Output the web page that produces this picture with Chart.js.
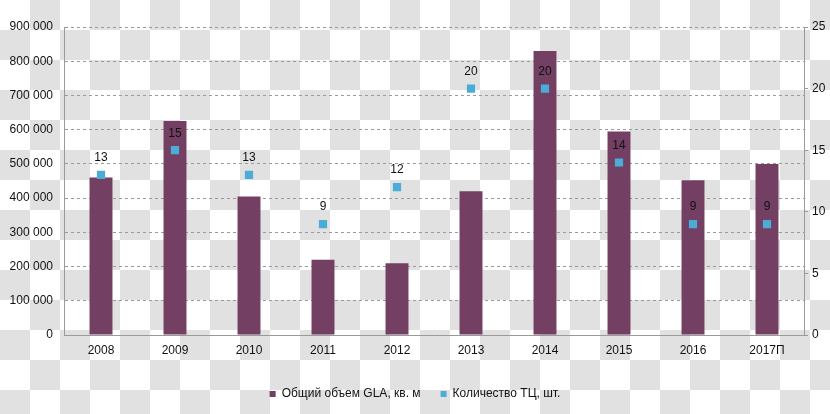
<!DOCTYPE html>
<html>
<head>
<meta charset="utf-8">
<script src="https://cdn.jsdelivr.net/npm/chart.js@4/dist/chart.umd.min.js"></script>
<style>
  html, body { margin: 0; padding: 0; }
  body {
    width: 830px; height: 414px; overflow: hidden;
    background-color: #fff;
    background-image: conic-gradient(#e1e1e1 0 25%, #fff 0 50%, #e1e1e1 0 75%, #fff 0);
    background-size: 60px 60px;
  }
  canvas { display: block; }
</style>
</head>
<body>
<canvas id="chart" width="830" height="414"></canvas>
<script>
var years = ["2008", "2009", "2010", "2011", "2012", "2013", "2014", "2015", "2016", "2017П"];
var glaValues = [460000, 625000, 405000, 220000, 210000, 420000, 830000, 595000, 452000, 500000];
var mallCounts = [13, 15, 13, 9, 12, 20, 20, 14, 9, 9];
var glaLabel = "Общий объем GLA, кв. м";
var countLabel = "Количество ТЦ, шт.";

var FONT = "'Liberation Sans', Arial, sans-serif";

// подписи над точками
var pointLabels = {
    id: 'pointLabels',
    afterDatasetsDraw: function (chart) {
        var ctx = chart.ctx;
        var meta = chart.getDatasetMeta(1);
        ctx.save();
        ctx.font = "12px " + FONT;
        ctx.fillStyle = "#111";
        ctx.textAlign = "center";
        ctx.textBaseline = "middle";
        meta.data.forEach(function (pt, i) {
            ctx.fillText(String(mallCounts[i]), pt.x, pt.y - 17);
        });
        ctx.restore();
    }
};

var ctx = document.getElementById("chart");
var chart = new Chart(ctx, {
    data: {
        labels: years,
        datasets: [{
            type: 'bar',
            label: glaLabel,
            data: glaValues,
            backgroundColor: "#733f63",
            borderWidth: 0,
            barPercentage: 0.31,
            categoryPercentage: 1,
            yAxisID: 'y',
            order: 2
        }, {
            type: 'line',
            label: countLabel,
            data: mallCounts,
            showLine: false,
            pointStyle: 'rect',
            pointRadius: 5.8,
            pointHoverRadius: 5.8,
            backgroundColor: "#4bacd8",
            borderColor: "#4bacd8",
            borderWidth: 0,
            yAxisID: 'y2',
            order: 1
        }]
    },
    options: {
        responsive: false,
        animation: false,
        devicePixelRatio: 1,
        layout: { padding: { top: 27, right: 0, bottom: 4, left: 0 } },
        plugins: {
            legend: {
                position: 'bottom',
                labels: {
                    boxWidth: 6,
                    boxHeight: 6,
                    padding: 20,
                    color: "#111",
                    font: { family: FONT, size: 12 },
                    sort: function (a, b) { return a.datasetIndex - b.datasetIndex; }
                }
            },
            tooltip: { enabled: false }
        },
        scales: {
            x: {
                grid: { display: false, drawTicks: false },
                border: { color: "#9a9a9a", width: 1 },
                ticks: { color: "#111", padding: 8, maxRotation: 0, autoSkip: false, font: { family: FONT, size: 12 } },
                afterFit: function (s) { s.height = 33; }
            },
            y: {
                position: 'left',
                min: 0, max: 900000,
                ticks: {
                    stepSize: 100000,
                    padding: 11,
                    color: "#111",
                    font: { family: FONT, size: 12 },
                    callback: function (v) { return String(v).replace(/\B(?=(\d{3})+(?!\d))/g, " "); }
                },
                grid: {
                    drawTicks: false,
                    color: function (c) { return c.tick && c.tick.value === 0 ? "rgba(0,0,0,0)" : "#9a9a9a"; }
                },
                border: { color: "#9a9a9a", width: 1, dash: [3, 3] },
                afterFit: function (s) { s.width = 64; }
            },
            y2: {
                position: 'right',
                min: 0, max: 25,
                ticks: {
                    stepSize: 5,
                    padding: 4,
                    color: "#111",
                    font: { family: FONT, size: 12 }
                },
                grid: { drawOnChartArea: false, drawTicks: true, tickLength: 4, color: "#9a9a9a" },
                border: { color: "#9a9a9a", width: 1 },
                afterFit: function (s) { s.width = 26; }
            }
        }
    },
    plugins: [pointLabels]
});
</script>
</body>
</html>
